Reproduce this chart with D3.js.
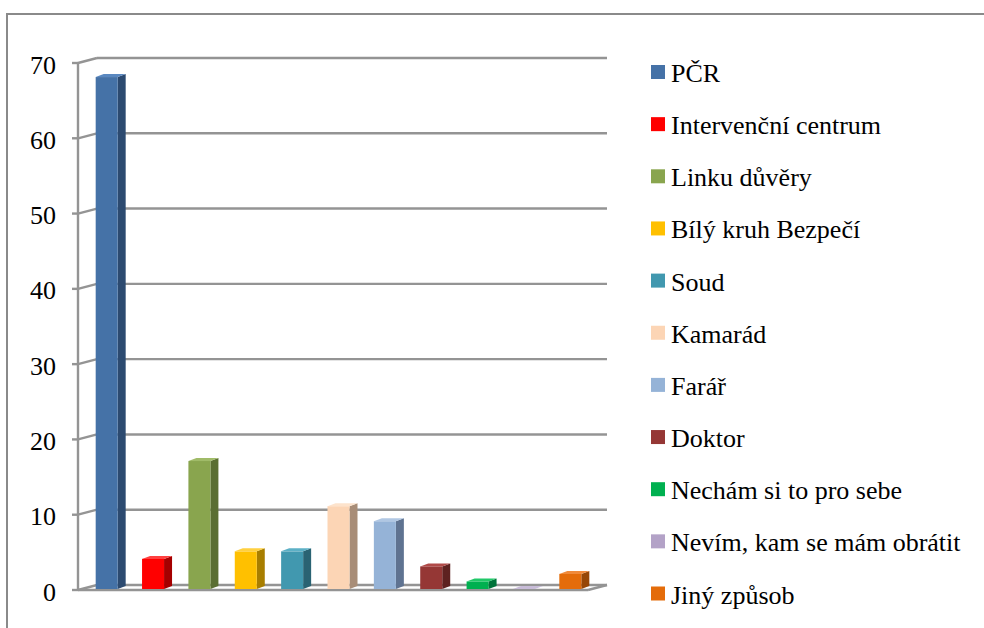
<!DOCTYPE html>
<html>
<head>
<meta charset="utf-8">
<script src="https://cdn.jsdelivr.net/npm/d3@7"></script>
<style>
  body { margin: 0; background: #fff; }
  svg { display: block; }
  text { font-family: "Liberation Serif", serif; }
</style>
</head>
<body>
<div id="container"></div>
<script>
//chart data
const categories = ["PČR", "Intervenční centrum", "Linku důvěry", "Bílý kruh Bezpečí", "Soud",
    "Kamarád", "Farář", "Doktor", "Nechám si to pro sebe", "Nevím, kam se mám obrátit", "Jiný způsob"]
const values = [68, 4, 17, 5, 5, 11, 9, 3, 1, 0, 2]
const yTicks = [0, 10, 20, 30, 40, 50, 60, 70]

//face colours: front, side, top
const fronts = ["#4572a7", "#ff0000", "#89a54e", "#ffc000", "#4198af", "#fcd5b5", "#95b3d7", "#953735", "#00b050", "#b3a2c7", "#e46c0a"]
const sides  = ["#2c4a70", "#a50000", "#5a6e33", "#a87e00", "#2a6373", "#a88d77", "#5f7391", "#5e2220", "#00733a", "#7a6c8a", "#974706"]
const tops   = ["#5a88c0", "#ff4040", "#a0bb68", "#ffd040", "#5cb0c6", "#fde3cc", "#b0c7e3", "#b04a48", "#20c868", "#c8bcd8", "#f08a3a"]

const width = 984, height = 628
const serif = "Liberation Serif"

let svg = d3.select("#container")
    .append("svg")
    .attr("width", width)
    .attr("height", height)

//outer frame
svg.append("rect")
    .attr("x", 7).attr("y", 14)
    .attr("width", width + 10).attr("height", height + 10)
    .attr("fill", "none")
    .attr("stroke", "#8a8a8a")
    .attr("stroke-width", 2)

//scales (front plane)
const x = d3.scaleBand().domain(categories).range([78, 588])
const y = d3.scaleLinear().domain([0, 70]).range([590, 63])

//depth offsets of the 3d box and of the bars
const depthX = 19, depthY = -5
const barDX = 5.5, barDY = -1, barDepthX = 8, barDepthY = -3
const barW = 22

const gridColor = "#949494"

//gridlines: side wall diagonal + back wall
let grid = svg.append("g")
yTicks.forEach(t => {
    const yy = y(t)
    grid.append("line")
        .attr("x1", 72).attr("x2", x.range()[0])
        .attr("y1", yy).attr("y2", yy)
    grid.append("line")
        .attr("x1", x.range()[0]).attr("y1", yy)
        .attr("x2", x.range()[0] + depthX).attr("y2", yy + depthY)
    grid.append("line")
        .attr("x1", x.range()[0] + depthX).attr("y1", yy + depthY)
        .attr("x2", x.range()[1] + depthX).attr("y2", yy + depthY)
})
//front axis and floor edges
grid.append("line")
    .attr("x1", x.range()[0]).attr("x2", x.range()[0])
    .attr("y1", y(70)).attr("y2", y(0))
grid.append("line")
    .attr("x1", x.range()[0]).attr("x2", x.range()[1])
    .attr("y1", y(0)).attr("y2", y(0))
grid.append("line")
    .attr("x1", x.range()[1]).attr("y1", y(0))
    .attr("x2", x.range()[1] + depthX).attr("y2", y(0) + depthY)
grid.selectAll("line")
    .attr("stroke", gridColor)
    .attr("stroke-width", 2.4)

//y labels
svg.append("g")
    .selectAll("text")
    .data(yTicks)
    .enter().append("text")
    .attr("x", 56)
    .attr("y", d => y(d) + 10.5)
    .attr("text-anchor", "end")
    .attr("font-family", serif)
    .attr("font-size", 26)
    .attr("fill", "#000")
    .text(d => d)

//bars
let bars = svg.append("g")
    .selectAll("g")
    .data(categories)
    .enter().append("g")

bars.each(function(c, i) {
    const g = d3.select(this)
    const x0 = x(c) + x.bandwidth() / 2 - barW / 2 + barDX
    const x1 = x0 + barW
    const yb = y(0) + barDY
    const yt = y(values[i]) + barDY
    //side face
    g.append("path")
        .attr("d", `M${x1},${yt}L${x1 + barDepthX},${yt + barDepthY}L${x1 + barDepthX},${yb + barDepthY}L${x1},${yb}Z`)
        .attr("fill", sides[i])
    //front face
    if (yb - yt > 0) {
        g.append("rect")
            .attr("x", x0).attr("y", yt)
            .attr("width", barW).attr("height", yb - yt)
            .attr("fill", fronts[i])
    }
    //top face
    g.append("path")
        .attr("d", `M${x0},${yt}L${x0 + barDepthX},${yt + barDepthY}L${x1 + barDepthX},${yt + barDepthY}L${x1},${yt}Z`)
        .attr("fill", tops[i])
})

//legend
const legendY = d3.scaleLinear().domain([0, categories.length - 1]).range([72, 593.5])
let legend = svg.append("g")
    .selectAll("g")
    .data(categories)
    .enter().append("g")
    .attr("transform", (d, i) => `translate(651,${legendY(i)})`)

legend.append("rect")
    .attr("x", 0).attr("y", -7)
    .attr("width", 14).attr("height", 14)
    .attr("fill", (d, i) => fronts[i])

legend.append("text")
    .attr("x", 20)
    .attr("y", 10)
    .attr("font-family", serif)
    .attr("font-size", 26)
    .attr("fill", "#000")
    .text(d => d)
</script>
</body>
</html>
